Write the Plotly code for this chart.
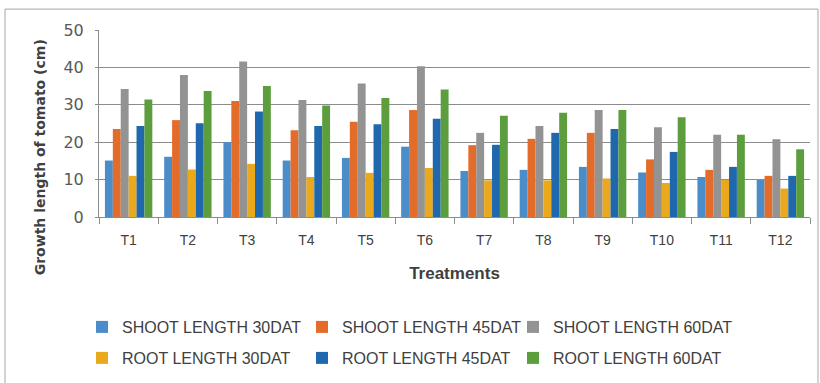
import plotly.graph_objects as go

treatments = ["T1", "T2", "T3", "T4", "T5", "T6", "T7", "T8", "T9", "T10", "T11", "T12"]

shoot_30 = [15.1, 16.1, 20.0, 15.1, 15.8, 18.8, 12.3, 12.6, 13.4, 11.9, 10.7, 9.9]
shoot_45 = [23.5, 25.9, 31.0, 23.2, 25.5, 28.6, 19.2, 20.9, 22.5, 15.4, 12.6, 11.0]
shoot_60 = [34.2, 38.0, 41.6, 31.3, 35.7, 40.3, 22.5, 24.3, 28.6, 24.0, 22.0, 20.8]
root_30 = [11.0, 12.7, 14.2, 10.7, 11.8, 13.1, 9.8, 9.8, 10.3, 9.1, 9.9, 7.6]
root_45 = [24.3, 25.1, 28.2, 24.3, 24.8, 26.3, 19.3, 22.5, 23.5, 17.4, 13.4, 11.0]
root_60 = [31.4, 33.7, 35.0, 29.8, 31.8, 34.1, 27.1, 27.9, 28.6, 26.7, 22.0, 18.1]

series_names = ["SHOOT LENGTH 30DAT", "SHOOT LENGTH 45DAT", "SHOOT LENGTH 60DAT",
                "ROOT LENGTH 30DAT", "ROOT LENGTH 45DAT", "ROOT LENGTH 60DAT"]
series_values = [shoot_30, shoot_45, shoot_60, root_30, root_45, root_60]
colors = ["#4a8dc9", "#e36c2b", "#939393", "#eaa81c", "#1f68ae", "#5c9e3d"]

y_ticks = [0, 10, 20, 30, 40, 50]

font = "Liberation Sans, Arial, sans-serif"

# plot area in pixels (layout only)
PL, PR, PT, PB = 99, 810, 30, 218
PW, PH = PR - PL, PB - PT

def px_x(x):
    return (x - PL) / PW

def px_y(y):
    return (PB - y) / PH

# legend entry text start (x) and row centre (y), one legend per entry
legend_text_x = [122, 342, 553, 122, 342, 553]
legend_row_y = [327, 327, 327, 358, 358, 358]

fig = go.Figure()
legend_layout = {}
for i, (name, vals, col) in enumerate(zip(series_names, series_values, colors)):
    key = "legend" if i == 0 else f"legend{i + 1}"
    fig.add_trace(go.Bar(x=treatments, y=vals, name=name, legend=key,
                         marker=dict(color=col, line=dict(width=0))))
    legend_layout[key] = dict(orientation="h", xanchor="left", yanchor="middle",
                              x=px_x(legend_text_x[i] - 40), y=px_y(legend_row_y[i]),
                              font=dict(family=font, size=16, color="#404040"),
                              bgcolor="rgba(0,0,0,0)")

fig.update_layout(
    width=820, height=383,
    margin=dict(l=PL, r=820 - PR, t=PT, b=383 - PB),
    paper_bgcolor="white", plot_bgcolor="white",
    barmode="group", bargap=0.2, bargroupgap=0,
    showlegend=True,
    xaxis=dict(showline=True, linecolor="#8c8c8c", linewidth=1,
               ticks="outside", tickson="boundaries", ticklen=6, tickcolor="#8c8c8c",
               ticklabelstandoff=10,
               tickfont=dict(family=font, size=14, color="#404040"),
               title=dict(text="<b>Treatments</b>", font=dict(family=font, size=17, color="#404040"), standoff=20)),
    yaxis=dict(range=[0, 50], tickvals=y_ticks, showgrid=True, gridcolor="#8c8c8c", gridwidth=1,
               showline=True, linecolor="#8c8c8c", ticks="outside", ticklen=3, tickcolor="#8c8c8c",
               ticklabelstandoff=8,
               tickfont=dict(family="DejaVu Sans", size=16, color="#595959"), zeroline=False),
    annotations=[dict(text="<b>Growth length of tomato (cm)</b>", textangle=-90,
                      xref="paper", yref="paper", x=px_x(40), y=px_y(158),
                      xanchor="center", yanchor="middle",
                      showarrow=False, font=dict(family="DejaVu Sans", size=14, color="#404040"))],
    shapes=[dict(type="rect", xref="paper", yref="paper",
                 x0=px_x(5), x1=px_x(818), y0=px_y(395), y1=px_y(9),
                 line=dict(color="#a6a6a6", width=1), fillcolor="rgba(0,0,0,0)", layer="below")],
    **legend_layout,
)

fig.write_html("out.html", config={"displayModeBar": False},
               post_script="document.body.style.margin='0';")
